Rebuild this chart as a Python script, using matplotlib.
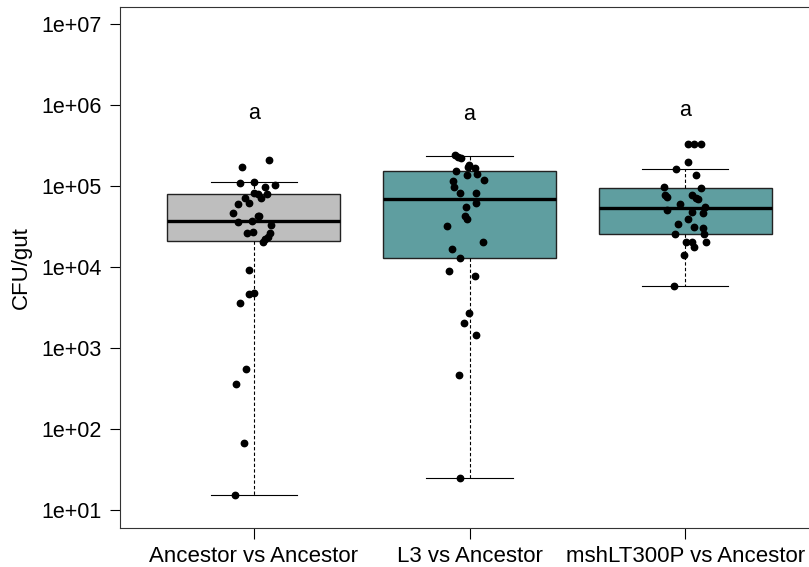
import matplotlib
matplotlib.use("Agg")
import matplotlib.pyplot as plt

plt.rcParams["font.family"] = ["Liberation Sans", "DejaVu Sans"]

groups = ["Ancestor vs Ancestor", "L3 vs Ancestor", "mshLT300P vs Ancestor"]
box_colors = ["#BEBEBE", "#5F9EA0", "#5F9EA0"]

# box statistics (CFU/gut)
q1 = [21100, 12900, 25500]
med = [37300, 69800, 54000]
q3 = [79000, 155000, 94000]
whislo = [15.3, 24.6, 5900]
whishi = [113000, 237000, 161000]

# individual guts
anc_vals = [209000, 170000, 110000, 113000, 96400, 103000, 82800, 79600, 78900,
            70500, 62200, 70500, 60000, 46000, 42700, 42700, 35600, 37000, 32700,
            26100, 27300, 26500, 23700, 21900, 20500, 9180, 4820, 4600, 3620,
            551, 360, 66.5, 15.3]
anc_jit = [0.07, -0.056, -0.063, 0.002, 0.054, 0.097, -0.001, 0.019, 0.06,
           -0.039, -0.02, 0.034, -0.071, -0.094, 0.019, 0.026, -0.074, -0.007, 0.081,
           -0.032, -0.005, 0.073, 0.064, 0.054, 0.042, -0.02, 0.003, -0.02, -0.066,
           -0.035, -0.082, -0.045, -0.088]

l3_vals = [241500, 226000, 222000, 181500, 170000, 165000, 154500, 140600, 136800,
           118600, 114300, 96400, 82800, 81300, 61100, 55600, 42700, 39200, 32400,
           20200, 16500, 12900, 8930, 7820, 2680, 2050, 1430, 468, 24.6]
l3_jit = [-0.068, -0.054, -0.039, -0.003, -0.009, 0.025, -0.062, 0.034, -0.011,
          0.068, -0.077, -0.073, -0.042, 0.028, 0.032, -0.015, -0.022, -0.011, -0.102,
          0.064, -0.08, -0.046, -0.097, 0.025, -0.003, -0.025, 0.032, -0.05, -0.046]

msh_vals = [327000, 327000, 333000, 198000, 161000, 138000, 97300, 93800, 78200,
            73100, 76700, 71800, 68500, 60000, 55600, 50600, 48200, 46000, 38800,
            33700, 31500, 30100, 25800, 25500, 20200, 20500, 17800, 20200, 13900, 5890]
msh_jit = [0.011, 0.042, 0.073, 0.013, -0.043, 0.051, -0.099, 0.073, -0.093,
           -0.085, 0.032, 0.05, 0.059, -0.023, 0.09, -0.086, 0.031, 0.081, 0.013,
           -0.034, 0.042, 0.084, -0.046, 0.088, 0.002, 0.031, 0.042, 0.095, -0.007, -0.051]

letters = ["a", "a", "a"]
letter_y = [790000, 755000, 865000]

ytick_vals = [1e1, 1e2, 1e3, 1e4, 1e5, 1e6, 1e7]
ytick_labels = ["1e+01", "1e+02", "1e+03", "1e+04", "1e+05", "1e+06", "1e+07"]

fig = plt.figure(figsize=(8.09, 5.67), dpi=100)
ax = fig.add_axes([120 / 809, 39 / 567, 699 / 809, 521 / 567])

stats = []
for i in range(3):
    stats.append({"med": med[i], "q1": q1[i], "q3": q3[i],
                  "whislo": whislo[i], "whishi": whishi[i], "fliers": []})

bp = ax.bxp(stats, positions=[1, 2, 3], widths=0.8, capwidths=0.4,
            patch_artist=True, showfliers=False,
            boxprops=dict(edgecolor="#222222", linewidth=1.0),
            medianprops=dict(color="black", linewidth=2.4),
            whiskerprops=dict(color="black", linestyle=(0, (3, 2)), linewidth=0.8),
            capprops=dict(color="black", linewidth=0.8))
for patch, c in zip(bp["boxes"], box_colors):
    patch.set_facecolor(c)

all_vals = [anc_vals, l3_vals, msh_vals]
all_jit = [anc_jit, l3_jit, msh_jit]
for i in range(3):
    xs = [i + 1 + j for j in all_jit[i]]
    ax.plot(xs, all_vals[i], "o", color="black", markersize=4.6, zorder=5)
    ax.text(i + 1, letter_y[i], letters[i], ha="center", va="center", fontsize=15.5)

ax.set_yscale("log")
ax.set_ylim(6.0, 1.62e7)
ax.set_xlim(0.38, 3.62)
ax.set_yticks(ytick_vals)
ax.set_yticklabels(ytick_labels)
ax.minorticks_off()
ax.set_xticks([1, 2, 3])
ax.set_xticklabels(groups)
ax.tick_params(axis="y", labelsize=15.5, length=7, width=0.8, pad=6)
ax.tick_params(axis="x", labelsize=16, length=8, width=0.8, pad=5)
ax.set_ylabel("CFU/gut", fontsize=16, labelpad=7)
for s in ax.spines.values():
    s.set_linewidth(0.8)
    s.set_color("#333333")

fig.savefig("out.png", dpi=100)
